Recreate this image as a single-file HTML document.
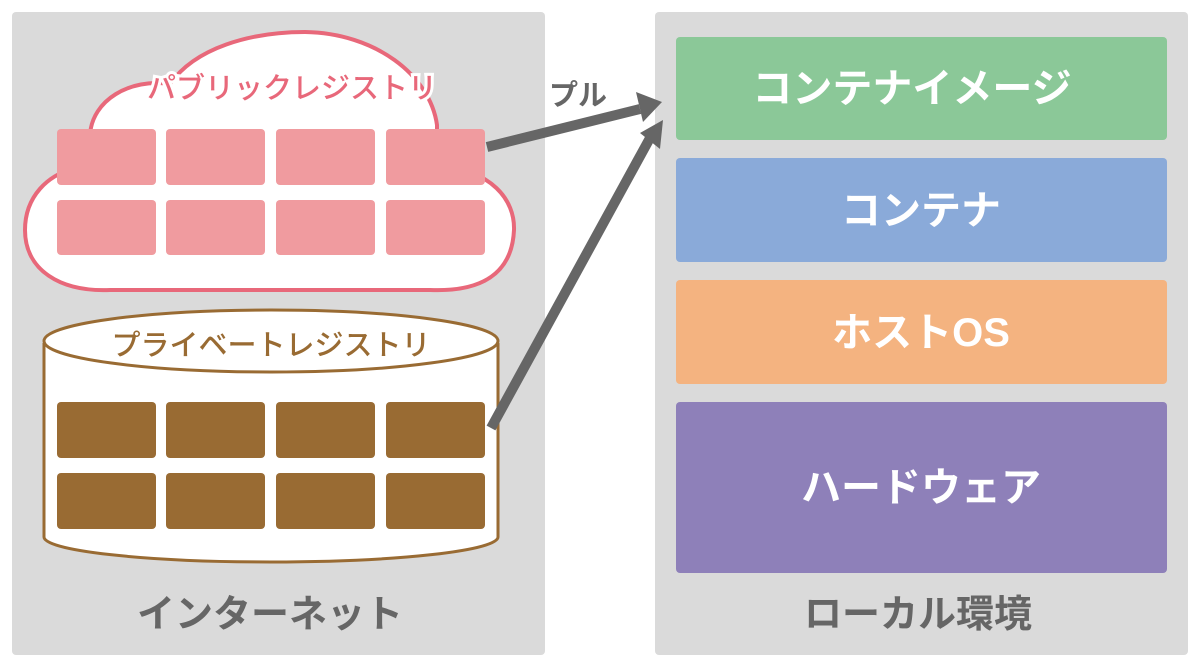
<!DOCTYPE html>
<html><head><meta charset="utf-8"><style>
html,body{margin:0;padding:0;background:#fff;}
svg{display:block}
text{font-family:"Liberation Sans","Noto Sans CJK JP",sans-serif;font-weight:bold;}
</style></head><body>
<svg width="1200" height="665" viewBox="0 0 1200 665" xmlns="http://www.w3.org/2000/svg">
<rect x="12" y="12" width="533" height="643" rx="4" fill="#dadada"/>
<rect x="655" y="12" width="533" height="643" rx="4" fill="#dadada"/>
<path d="M90,135 C92,100 130,78 170,84 C195,48 250,32 305,32 C375,33 430,75 437,125 L437,165 C492,170 515,200 514,230 C512,275 480,292 430,290 L110,290 C60,292 25,270 25,230 C25,195 50,175 70,170 Z" fill="#fff" stroke="#e8687a" stroke-width="4" stroke-linejoin="round"/>
<text x="292" y="98" font-size="29" font-weight="normal" style="font-weight:500" fill="#e8687a" text-anchor="middle" stroke="#fff" stroke-width="6" paint-order="stroke">パブリックレジストリ</text>
<g fill="#f09b9f">
<rect x="57" y="129" width="99" height="56" rx="4"/><rect x="166" y="129" width="99" height="56" rx="4"/><rect x="276" y="129" width="99" height="56" rx="4"/><rect x="386" y="129" width="99" height="56" rx="4"/>
<rect x="57" y="200" width="99" height="55" rx="4"/><rect x="166" y="200" width="99" height="55" rx="4"/><rect x="276" y="200" width="99" height="55" rx="4"/><rect x="386" y="200" width="99" height="55" rx="4"/>
</g>
<path d="M44,343 L44,537 A227,25 0 0 0 498,537 L498,343" fill="#fff" stroke="#996b33" stroke-width="3"/>
<ellipse cx="271" cy="341" rx="227" ry="31" fill="#fff" stroke="#996b33" stroke-width="3"/>
<text x="271" y="355" font-size="29" style="font-weight:500" fill="#996b33" text-anchor="middle">プライベートレジストリ</text>
<g fill="#996b33">
<rect x="57" y="402" width="99" height="56" rx="4"/><rect x="166" y="402" width="99" height="56" rx="4"/><rect x="276" y="402" width="99" height="56" rx="4"/><rect x="386" y="402" width="99" height="56" rx="4"/>
<rect x="57" y="473" width="99" height="56" rx="4"/><rect x="166" y="473" width="99" height="56" rx="4"/><rect x="276" y="473" width="99" height="56" rx="4"/><rect x="386" y="473" width="99" height="56" rx="4"/>
</g>
<text x="270" y="627" font-size="38" fill="#666" text-anchor="middle">インターネット</text>
<g stroke="#666" stroke-width="10" fill="none">
<line x1="487" y1="147" x2="640" y2="109"/>
<line x1="491" y1="428" x2="650" y2="138"/>
</g>
<polygon points="662,102 636,92 643,122" fill="#666"/>
<polygon points="663,120 640,133 660,149" fill="#666"/>
<text x="578" y="105" font-size="29" fill="#666" text-anchor="middle">プル</text>
<rect x="676" y="37" width="491" height="103" rx="4" fill="#8bc898"/>
<rect x="676" y="158" width="491" height="104" rx="4" fill="#8aaad9"/>
<rect x="676" y="280" width="491" height="104" rx="4" fill="#f4b380"/>
<rect x="676" y="402" width="491" height="171" rx="4" fill="#8e80b9"/>
<g fill="#fff" font-size="40" text-anchor="middle">
<text x="912" y="102">コンテナイメージ</text>
<text x="921" y="224">コンテナ</text>
<text x="921" y="346">ホストOS</text>
<text x="921" y="501">ハードウェア</text>
</g>
<text x="918" y="627" font-size="38" fill="#666" text-anchor="middle">ローカル環境</text>
</svg>
</body></html>
